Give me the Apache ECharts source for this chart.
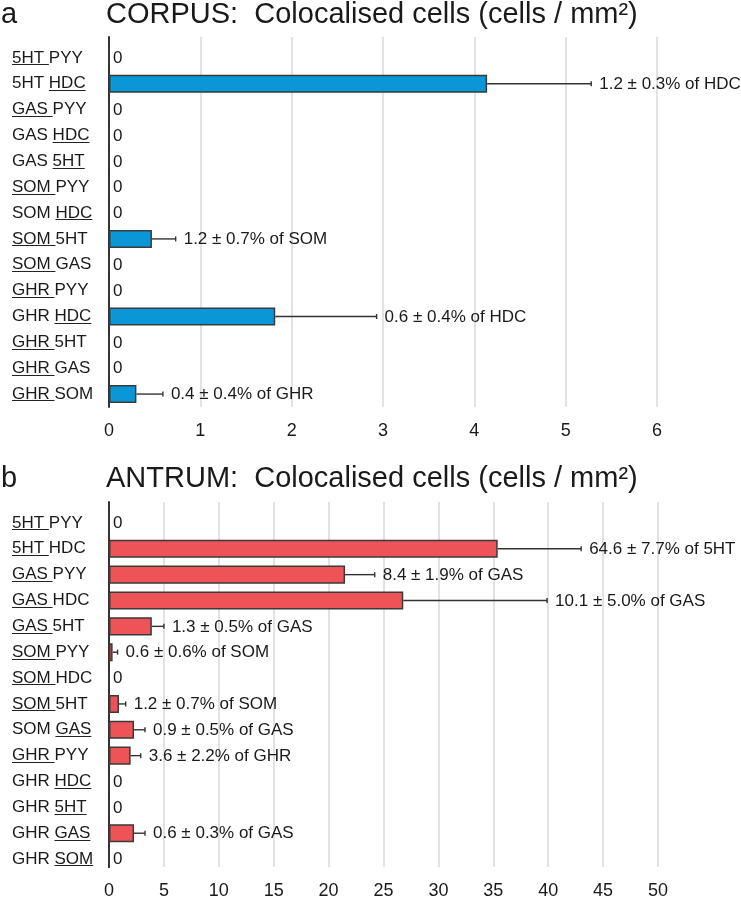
<!DOCTYPE html>
<html><head><meta charset="utf-8">
<script src="https://cdn.jsdelivr.net/npm/echarts@6/dist/echarts.min.js"></script>
<style>html,body{margin:0;padding:0;background:#fff}#c{width:741px;height:900px}</style>
</head><body><div id="c"></div>
<script>
// ---------- data ----------
const categories = ['5HT PYY','5HT HDC','GAS PYY','GAS HDC','GAS 5HT','SOM PYY','SOM HDC','SOM 5HT','SOM GAS','GHR PYY','GHR HDC','GHR 5HT','GHR GAS','GHR SOM'];
// which word of each label is underlined (0 = first, 1 = second)
const corpusUnderline = [0,1,0,1,1,0,1,0,0,0,1,0,0,0];
const antrumUnderline = [0,0,0,0,0,0,0,0,1,0,1,1,1,1];

const corpusValues = [0, 4.14, 0, 0, 0, 0, 0, 0.47, 0, 0, 1.82, 0, 0, 0.30];
const corpusErrors = [0, 1.14, 0, 0, 0, 0, 0, 0.26, 0, 0, 1.11, 0, 0, 0.29];
const corpusNotes  = ['', '1.2 ± 0.3% of HDC', '', '', '', '', '', '1.2 ± 0.7% of SOM', '', '', '0.6 ± 0.4% of HDC', '', '', '0.4 ± 0.4% of GHR'];

const antrumValues = [0, 35.4, 21.5, 26.8, 3.9, 0.33, 0, 0.91, 2.28, 1.97, 0, 0, 2.28, 0];
const antrumErrors = [0, 7.6, 2.7, 13.1, 1.1, 0.45, 0, 0.61, 1.0, 0.92, 0, 0, 1.0, 0];
const antrumNotes  = ['', '64.6 ± 7.7% of 5HT', '8.4 ± 1.9% of GAS', '10.1 ± 5.0% of GAS', '1.3 ± 0.5% of GAS', '0.6 ± 0.6% of SOM', '', '1.2 ± 0.7% of SOM', '0.9 ± 0.5% of GAS', '3.6 ± 2.2% of GHR', '', '', '0.6 ± 0.3% of GAS', ''];

const corpusTitle = 'CORPUS:  Colocalised cells (cells / mm²)';
const antrumTitle = 'ANTRUM:  Colocalised cells (cells / mm²)';
const corpusAxis = {min: 0, max: 6, interval: 1};
const antrumAxis = {min: 0, max: 50, interval: 5};

// ---------- styles ----------
const FONT = '"Liberation Sans", Arial, sans-serif';
const TXT = '#1a1a1a';
const BLUE = '#0A96D7';
const RED = '#EE5358';
const EDGE = '#3a3a3a';
const FS = 17;

const underlineBg = {
  type: 'linear', x: 0, y: 0, x2: 0, y2: 1,
  colorStops: [
    {offset: 0, color: 'rgba(0,0,0,0)'},
    {offset: 0.87, color: 'rgba(0,0,0,0)'},
    {offset: 0.87, color: '#222'},
    {offset: 0.93, color: '#222'},
    {offset: 0.93, color: 'rgba(0,0,0,0)'},
    {offset: 1, color: 'rgba(0,0,0,0)'}
  ]
};
const labelRich = {
  n: {fontSize: FS, fontFamily: FONT, color: TXT, lineHeight: 20},
  u: {fontSize: FS, fontFamily: FONT, color: TXT, lineHeight: 20, backgroundColor: underlineBg}
};
function labelFormatter(ul) {
  return function (value, idx) {
    const p = value.split(' ');
    return ul[idx] === 0 ? '{u|' + p[0] + ' }{n|' + p[1] + '}' : '{n|' + p[0] + ' }{u|' + p[1] + '}';
  };
}

function makeRender(notes) {
  return function (params, api) {
    const v = api.value(0), e = api.value(1), i = api.value(2);
    const p0 = api.coord([v, i]);
    const p1 = api.coord([v + e, i]);
    const children = [];
    if (v > 0) {
      children.push({type: 'line', shape: {x1: p0[0], y1: p0[1], x2: p1[0], y2: p1[1]}, style: {stroke: '#333', lineWidth: 1.4}});
      children.push({type: 'line', shape: {x1: p1[0], y1: p1[1] - 2.5, x2: p1[0], y2: p1[1] + 2.5}, style: {stroke: '#333', lineWidth: 1.4}});
    }
    const txt = v > 0 ? notes[i] : '0';
    const tx = v > 0 ? p1[0] + 8 : p0[0] + 4;
    children.push({type: 'text', x: tx, y: p0[1] + 0.5, style: {text: txt, fill: TXT, fontSize: FS, fontFamily: FONT, align: 'left', verticalAlign: 'middle'}});
    return {type: 'group', children: children};
  };
}

function decoX(idx, ax) {
  return {gridIndex: idx, type: 'value', min: ax.min, max: ax.max, interval: ax.interval,
    axisLine: {show: false}, axisTick: {show: false},
    axisLabel: {fontSize: 18, fontFamily: FONT, color: TXT, margin: 15},
    splitLine: {show: true, lineStyle: {color: '#d9d9d9', width: 1.5}}};
}
function dataX(idx, ax) {
  return {gridIndex: idx, type: 'value', min: ax.min, max: ax.max, show: false, splitLine: {show: false}};
}
function decoY(idx) {
  return {gridIndex: idx, type: 'value', min: 0, max: 1, axisLabel: {show: false}, axisTick: {show: false},
    splitLine: {show: false}, axisLine: {show: true, lineStyle: {color: '#333', width: 2}}};
}
function dataY(idx, ul) {
  return {gridIndex: idx, type: 'category', inverse: true, data: categories,
    axisLine: {show: false}, axisTick: {show: false},
    axisLabel: {align: 'left', margin: 97, formatter: labelFormatter(ul), rich: labelRich}};
}

const chart = echarts.init(document.getElementById('c'), null, {renderer: 'canvas'});
chart.setOption({
  animation: false,
  backgroundColor: '#fff',
  grid: [
    {left: 109, width: 548, top: 37, height: 370},
    {left: 109, width: 548, top: 45, height: 362},
    {left: 109, width: 549, top: 502, height: 370},
    {left: 109, width: 549, top: 510, height: 362}
  ],
  xAxis: [decoX(0, corpusAxis), dataX(1, corpusAxis), decoX(2, antrumAxis), dataX(3, antrumAxis)],
  yAxis: [decoY(0), dataY(1, corpusUnderline), decoY(2), dataY(3, antrumUnderline)],
  series: [
    {type: 'bar', xAxisIndex: 1, yAxisIndex: 1, data: corpusValues, barCategoryGap: '30%',
      itemStyle: {color: BLUE, borderColor: EDGE, borderWidth: 1.5}},
    {type: 'custom', xAxisIndex: 1, yAxisIndex: 1, clip: false, z: 5,
      data: corpusValues.map((v, i) => [v, corpusErrors[i], i]), encode: {x: 0, y: 2},
      renderItem: makeRender(corpusNotes)},
    {type: 'bar', xAxisIndex: 3, yAxisIndex: 3, data: antrumValues, barCategoryGap: '30%',
      itemStyle: {color: RED, borderColor: EDGE, borderWidth: 1.5}},
    {type: 'custom', xAxisIndex: 3, yAxisIndex: 3, clip: false, z: 5,
      data: antrumValues.map((v, i) => [v, antrumErrors[i], i]), encode: {x: 0, y: 2},
      renderItem: makeRender(antrumNotes)}
  ],
  graphic: [
    {type: 'text', left: 1, top: 0, style: {text: 'a', fontSize: 29, fontFamily: FONT, fill: TXT}},
    {type: 'text', left: 106, top: 0, style: {text: corpusTitle, fontSize: 29, fontFamily: FONT, fill: TXT}},
    {type: 'text', left: 1, top: 464, style: {text: 'b', fontSize: 29, fontFamily: FONT, fill: TXT}},
    {type: 'text', left: 106, top: 464, style: {text: antrumTitle, fontSize: 29, fontFamily: FONT, fill: TXT}}
  ]
});
</script>
</body></html>
